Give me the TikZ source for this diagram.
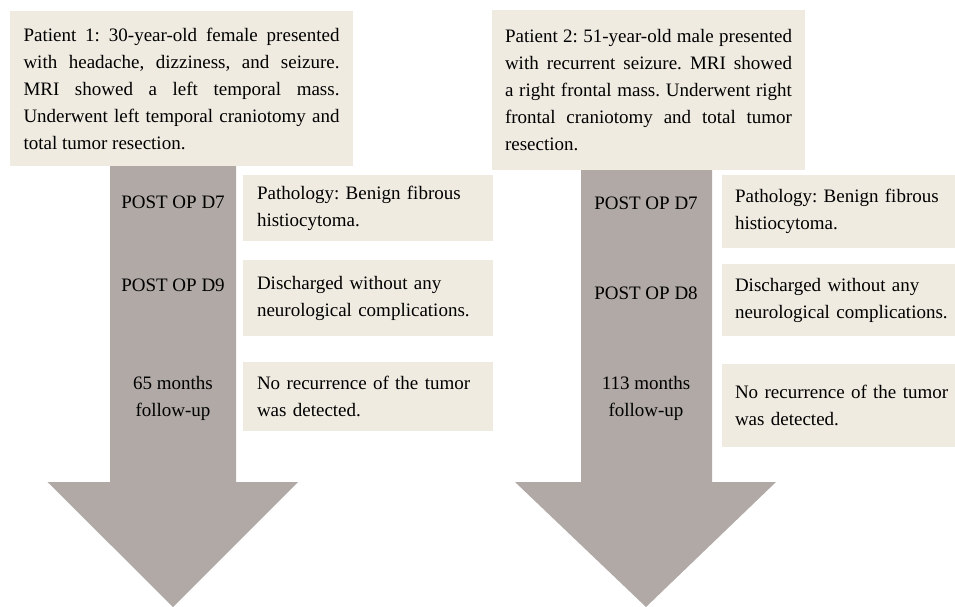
\documentclass[tikz,border=0pt]{standalone}
\usepackage{fontspec}
\setmainfont{Liberation Serif}
\usepackage{tikz}
\definecolor{boxbeige}{RGB}{239,235,225}
\definecolor{arrowgrey}{RGB}{176,169,165}
\frenchspacing
\hyphenpenalty=10000

\begin{document}
\begin{tikzpicture}[x=1pt,y=-1pt]
        \useasboundingbox (0,0) rectangle (955,607);
        \begin{scope}[
            every node/.style={font=\fontsize{19}{27}\selectfont},
            patient/.style={fill=boxbeige,inner xsep=13.5pt,inner ysep=0pt,align=justify},
            event/.style={fill=boxbeige,inner xsep=14pt,inner ysep=0pt,align=left},
            stage/.style={align=center}
            ]
            % timeline arrows
            \fill[arrowgrey] (110,166) -- (236,166) -- (236,482) -- (298,482) -- (173,607) -- (47.5,482) -- (110,482) -- cycle;
            \fill[arrowgrey] (581,170) -- (712,170) -- (712,482) -- (776,482) -- (646,607) -- (515,482) -- (581,482) -- cycle;
            % patient 1
            \node[patient,text width=316pt,minimum height=155pt] (P1) at (181.5,88.5)
                {Patient 1: 30-year-old female presented\linebreak with headache, dizziness, and seizure.\linebreak MRI showed a left temporal mass.\linebreak Underwent left temporal craniotomy and\linebreak total tumor resection.};
            \node[stage] (LD7) at (173,202) {POST OP D7};
            \node[stage] (LD9) at (173,285) {POST OP D9};
            \node[stage] (LFU) at (173,398) {65 months\\follow-up};
            \node[event,text width=222pt,minimum height=66pt] (L1) at (368,208) {Pathology: Benign fibrous histiocytoma.};
            \node[event,text width=222pt,minimum height=76pt] (L2) at (368,298) {Discharged without any neurological complications.};
            \node[event,text width=222pt,minimum height=69pt] (L3) at (368,396.5) {No recurrence of the tumor was detected.};
            % patient 2
            \node[patient,text width=287pt,minimum height=160pt,inner xsep=13pt] (P2) at (648.5,90)
                {Patient 2: 51-year-old male presented\linebreak with recurrent seizure. MRI showed\linebreak a right frontal mass. Underwent right\linebreak frontal craniotomy and total tumor\linebreak resection.};
            \node[stage] (RD7) at (646,203) {POST OP D7};
            \node[stage] (RD8) at (646,293) {POST OP D8};
            \node[stage] (RFU) at (646,398) {113 months\\follow-up};
            \node[event,text width=214pt,minimum height=73pt,inner xsep=13pt] (R1) at (842,211.5) {Pathology: Benign fibrous histiocytoma.};
            \node[event,text width=214pt,minimum height=72pt,inner xsep=13pt] (R2) at (842,300) {Discharged without any neurological complications.};
            \node[event,text width=214pt,minimum height=83pt,inner xsep=13pt] (R3) at (842,405.5) {No recurrence of the tumor was detected.};
        \end{scope}
    \end{tikzpicture}
\end{document}
